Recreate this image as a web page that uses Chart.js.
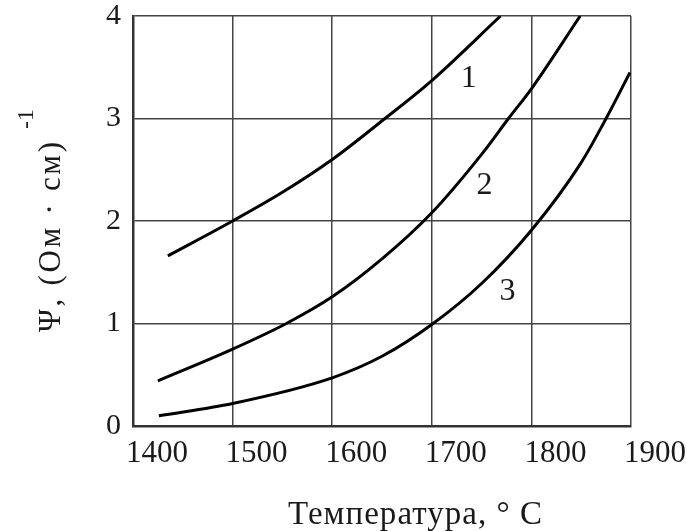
<!DOCTYPE html>
<html>
<head>
<meta charset="utf-8">
<style>
  html, body { margin: 0; padding: 0; background: #fff; }
  #wrap { width: 687px; height: 531px; position: relative; }
</style>
<script src="https://cdn.jsdelivr.net/npm/chart.js@4/dist/chart.umd.min.js"></script>
</head>
<body>
<div id="wrap"><canvas id="chart" width="687" height="531"></canvas></div>
<script>
// ── Data (temperature °C → Ψ, (Ом·см)^-1) ──
const curve1T = [1435, 1500, 1550, 1600, 1653, 1700, 1769];
const curve1V = [1.66, 2.0, 2.28, 2.6, 3.0, 3.37, 4.0];
const curve2T = [1425, 1500, 1554, 1600, 1650, 1700, 1750, 1777, 1800, 1849];
const curve2V = [0.44, 0.75, 1.0, 1.26, 1.63, 2.08, 2.65, 3.0, 3.29, 4.0];
const curve3T = [1426, 1500, 1600, 1650, 1700, 1750, 1800, 1850, 1875, 1899];
const curve3V = [0.1, 0.22, 0.47, 0.68, 0.99, 1.39, 1.91, 2.57, 3.0, 3.45];

const xTicks = [1400, 1500, 1600, 1700, 1800, 1900];
const yTicks = [0, 1, 2, 3, 4];

// curve numbers: [text, temperature, value]
const curveLabels = [['1', 1737, 3.39], ['2', 1753, 2.35], ['3', 1776, 1.31]];

const xTitle = 'Температура, ° C';
const yTitle = 'Ψ, (Ом · см)';
const yTitleSup = '-1';

const SERIF = '"Liberation Serif", "DejaVu Serif", serif';
const INK = '#1a1a1a';

function pts(xs, ys) { return xs.map((x, i) => ({ x, y: ys[i] })); }

function lineSet(xs, ys) {
  return {
    data: pts(xs, ys),
    borderColor: '#000',
    borderWidth: 3,
    pointRadius: 0,
    fill: false,
    cubicInterpolationMode: 'monotone'
  };
}

// text stretched out to a given length (the scan's lettering is wide)
function spacedText(ctx, text, x, y, target) {
  const w0 = ctx.measureText(text).width;
  const ls = Math.max(0, (target - w0) / (text.length - 1));
  if ('letterSpacing' in ctx) {
    ctx.letterSpacing = ls + 'px';
    ctx.fillText(text, x, y);
    ctx.letterSpacing = '0px';
  } else {
    ctx.fillText(text, x, y);
  }
}

// ── Curve numbers + axis titles ──
const annotate = {
  id: 'annotate',
  afterDatasetsDraw(chart) {
    const { ctx, scales: { x, y } } = chart;
    ctx.save();
    ctx.fillStyle = INK;
    ctx.font = '32px ' + SERIF;
    ctx.textAlign = 'center';
    ctx.textBaseline = 'middle';
    curveLabels.forEach(([t, tx, ty]) => {
      ctx.fillText(t, x.getPixelForValue(tx), y.getPixelForValue(ty));
    });
    ctx.restore();
  },
  afterDraw(chart) {
    const { ctx } = chart;
    ctx.save();
    ctx.fillStyle = INK;
    ctx.textAlign = 'left';
    ctx.textBaseline = 'alphabetic';

    // x title
    ctx.font = '33px ' + SERIF;
    spacedText(ctx, xTitle, 288, 524, 254);

    // y title, rotated, with superscript
    ctx.translate(60, 332);
    ctx.rotate(-Math.PI / 2);
    ctx.font = '31px ' + SERIF;
    spacedText(ctx, yTitle, 0, 0, 190);
    ctx.font = '24px ' + SERIF;
    ctx.fillText(yTitleSup, 203, -27);
    ctx.restore();
  }
};

new Chart(document.getElementById('chart').getContext('2d'), {
  type: 'line',
  data: {
    datasets: [
      lineSet(curve1T, curve1V),
      lineSet(curve2T, curve2V),
      lineSet(curve3T, curve3V)
    ]
  },
  options: {
    responsive: false,
    animation: false,
    layout: { padding: { top: 16, right: 56, left: 0, bottom: 0 } },
    plugins: { legend: { display: false }, tooltip: { enabled: false } },
    scales: {
      x: {
        type: 'linear',
        min: 1400, max: 1900,
        afterBuildTicks: s => { s.ticks = xTicks.map(v => ({ value: v })); },
        afterFit: s => { s.height = 105; s.paddingLeft = 0; s.paddingRight = 0; },
        ticks: {
          color: INK,
          font: { family: SERIF, size: 31 },
          padding: 9,
          labelOffset: 24,
          maxRotation: 0,
          callback: v => String(v)
        },
        grid: { color: '#444', lineWidth: 1.5, drawTicks: false },
        border: { color: '#333', width: 2.5 }
      },
      y: {
        min: 0, max: 4,
        afterBuildTicks: s => { s.ticks = yTicks.map(v => ({ value: v })); },
        afterFit: s => { s.width = 133; s.paddingTop = 0; s.paddingBottom = 0; },
        ticks: { color: INK, font: { family: SERIF, size: 30 }, padding: 12, callback: v => String(v) },
        grid: { color: '#444', lineWidth: 1.5, drawTicks: false },
        border: { color: '#333', width: 2.5 }
      }
    }
  },
  plugins: [annotate]
});
</script>
</body>
</html>
